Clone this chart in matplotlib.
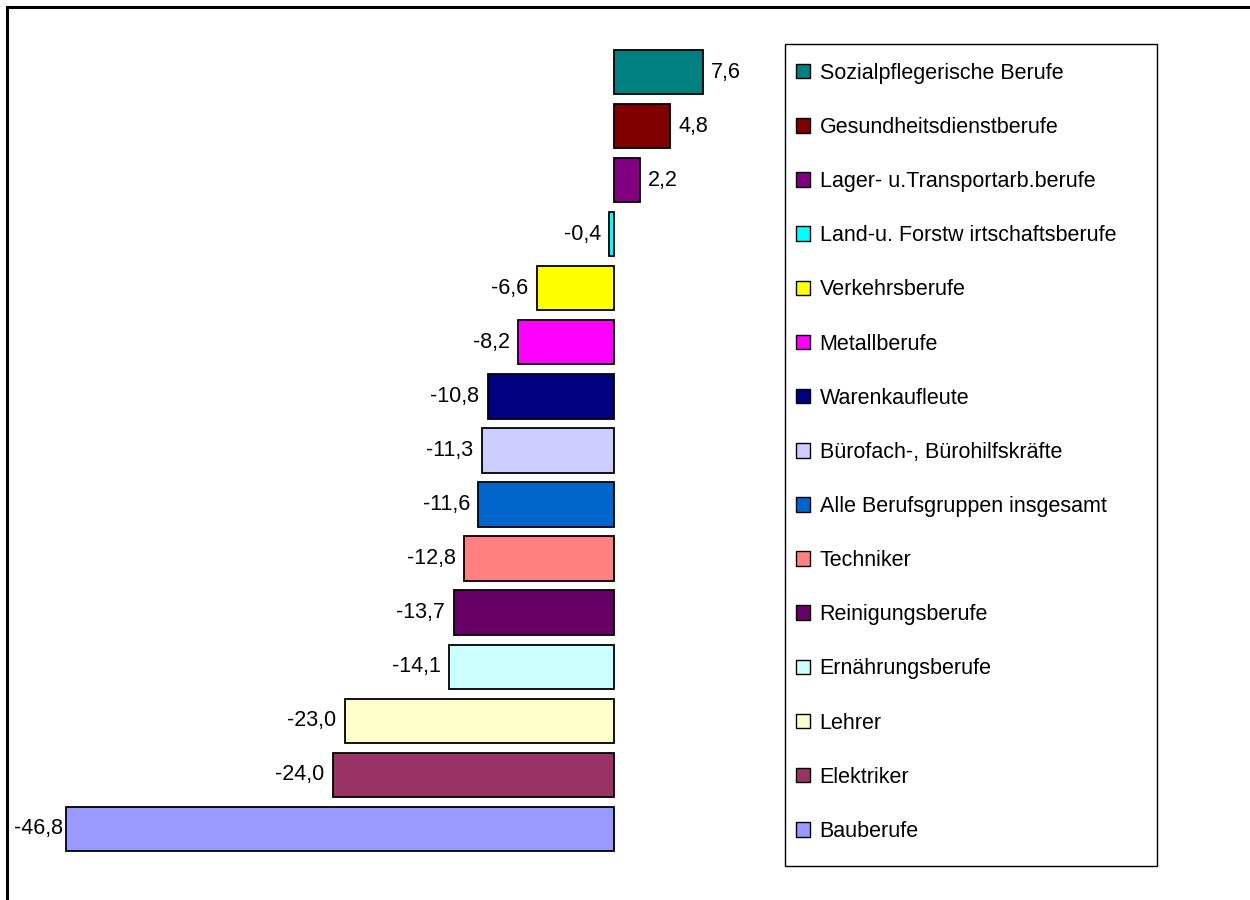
import matplotlib
matplotlib.use("Agg")
import matplotlib.pyplot as plt
from matplotlib.patches import Patch, Rectangle

# Berufsgruppen, top to bottom as shown
categories = ["Sozialpflegerische Berufe", "Gesundheitsdienstberufe",
              "Lager- u.Transportarb.berufe", "Land-u. Forstw irtschaftsberufe",
              "Verkehrsberufe", "Metallberufe", "Warenkaufleute",
              "Bürofach-, Bürohilfskräfte", "Alle Berufsgruppen insgesamt",
              "Techniker", "Reinigungsberufe", "Ernährungsberufe",
              "Lehrer", "Elektriker", "Bauberufe"]
values = [7.6, 4.8, 2.2, -0.4, -6.6, -8.2, -10.8, -11.3, -11.6,
          -12.8, -13.7, -14.1, -23.0, -24.0, -46.8]
colors = ["#008080", "#800000", "#800080", "#00FFFF", "#FFFF00", "#FF00FF",
          "#000080", "#CCCCFF", "#0066CC", "#FF8080", "#660066", "#CCFFFF",
          "#FFFFCC", "#993366", "#9999FF"]

plt.rcParams['font.family'] = ['Liberation Sans', 'DejaVu Sans']
FS = 15.5

fig = plt.figure(figsize=(12.5, 9), dpi=100)
ax = fig.add_axes([20 / 1250, 1 - 870 / 900, 750 / 1250, 840 / 900])

pos = list(range(len(values)))
ax.barh(pos, values, height=0.82, color=colors, edgecolor="black", linewidth=1.3)

vmin = min(values)
for y, v in zip(pos, values):
    label = f"{v:.1f}".replace(".", ",")
    if v >= 0:
        ax.annotate(label, (v, y), xytext=(6, 0), textcoords="offset points",
                    ha="left", va="center", fontsize=FS)
    else:
        pad = 2 if v == vmin else 6
        ax.annotate(label, (v, y), xytext=(-pad, 0), textcoords="offset points",
                    ha="right", va="center", fontsize=FS)

ax.set_xlim(-50.73, 13.32)
ax.set_ylim(14.76, -0.777)
ax.axis("off")

# legend box drawn separately so its size matches the original
fig.patches.append(Rectangle((785 / 1250, 1 - 866 / 900), 372 / 1250, 822 / 900,
                             transform=fig.transFigure, facecolor="white",
                             edgecolor="black", linewidth=1.0, zorder=0))

handles = [Patch(facecolor=c, edgecolor="black", linewidth=1.0) for c in colors]
leg = fig.legend(handles, categories, loc="upper left",
                 bbox_to_anchor=(785 / 1250, 1 - 52 / 900),
                 fontsize=FS, frameon=False,
                 handlelength=0.66, handleheight=0.66, handletextpad=0.45,
                 labelspacing=1.54, borderpad=0.5, borderaxespad=0)

# outer chart frame (runs off right and bottom edge)
fig.patches.append(Rectangle((6.5 / 1250, -0.05), 1.1, 1 - 6.5 / 900 + 0.05,
                             transform=fig.transFigure, fill=False,
                             edgecolor="black", linewidth=2.2, clip_on=False))

fig.savefig("out.png", dpi=100)
